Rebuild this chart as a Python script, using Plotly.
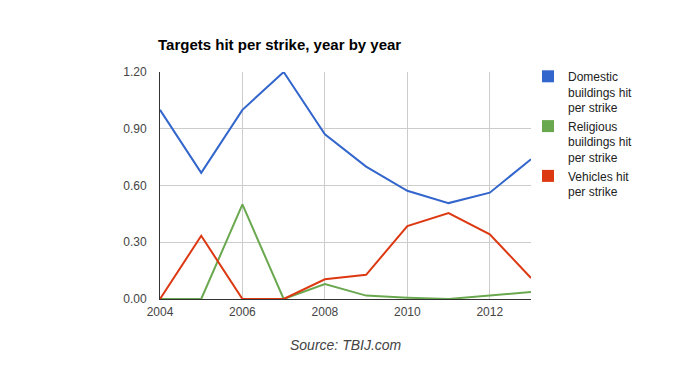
import plotly.graph_objects as go

years = [2004, 2005, 2006, 2007, 2008, 2009, 2010, 2011, 2012, 2013]
domestic = [1.00, 0.667, 1.00, 1.20, 0.871, 0.70, 0.572, 0.507, 0.562, 0.739]
religious = [0.0, 0.0, 0.50, 0.0, 0.079, 0.018, 0.007, 0.0, 0.019, 0.037]
vehicles = [0.0, 0.334, 0.0, 0.0, 0.104, 0.128, 0.385, 0.454, 0.342, 0.111]

names = ["Domestic<br>buildings hit<br>per strike",
         "Religious<br>buildings hit<br>per strike",
         "Vehicles hit<br>per strike"]
colors = ["#3366cc", "#6aa84f", "#dc3912"]
series = [domestic, religious, vehicles]
y_ticks = [0, 0.3, 0.6, 0.9, 1.2]
x_ticks = [2004, 2006, 2008, 2010, 2012]

fig = go.Figure()
for vals, c in zip(series, colors):
    fig.add_trace(go.Scatter(x=years, y=vals, mode="lines",
                             line=dict(color=c, width=2), showlegend=False,
                             hoverinfo="x+y"))
for n, c in zip(names, colors):
    fig.add_trace(go.Scatter(x=[None], y=[None], mode="markers", name=n,
                             marker=dict(symbol="square", size=11, color=c)))

OFF = 8  # page body margin in the browser
FW, FH = 690, 371
L, T, W, H = 160 - OFF, 72 - OFF, 371, 227

def px(x):
    return (x - OFF - L) / W

def py(y):
    return (T + H - (y - OFF)) / H

fig.update_layout(
    width=FW, height=FH,
    margin=dict(l=L, r=FW - L - W, t=T, b=FH - T - H, autoexpand=False),
    paper_bgcolor="white", plot_bgcolor="white",
    font=dict(family="Arial, Liberation Sans, sans-serif", size=12, color="#444444"),
    title=dict(text="<b>Targets hit per strike, year by year</b>",
               x=(158 - OFF)/FW, xanchor="left", y=1 - (45 - OFF)/FH, yanchor="middle",
               font=dict(size=15, color="#000000")),
    xaxis=dict(range=[2004, 2013], tickvals=x_ticks, ticktext=[str(v) for v in x_ticks],
               showgrid=True, gridcolor="#cccccc", gridwidth=1,
               showline=True, linecolor="#333333", linewidth=1,
               zeroline=False, ticks="outside", ticklen=2, tickcolor="rgba(0,0,0,0)",
               tickfont=dict(size=12, color="#444444")),
    yaxis=dict(range=[0, 1.2], tickvals=y_ticks, tickformat=".2f",
               showgrid=True, gridcolor="#cccccc", gridwidth=1,
               showline=True, linecolor="#333333", linewidth=1,
               zeroline=False, ticks="outside", ticklen=10, tickcolor="rgba(0,0,0,0)",
               tickfont=dict(size=12, color="#444444")),
    legend=dict(x=px(528), xanchor="left", y=py(62), yanchor="top",
                font=dict(size=12, color="#222222"), bgcolor="rgba(0,0,0,0)",
                itemsizing="constant", valign="top"),
    annotations=[dict(text="<i>Source: TBIJ.com</i>", xref="paper", yref="paper",
                      x=px(346), y=py(345), xanchor="center", yanchor="middle",
                      showarrow=False, font=dict(size=14, color="#444444"))],
)

fig.write_html("out.html")
